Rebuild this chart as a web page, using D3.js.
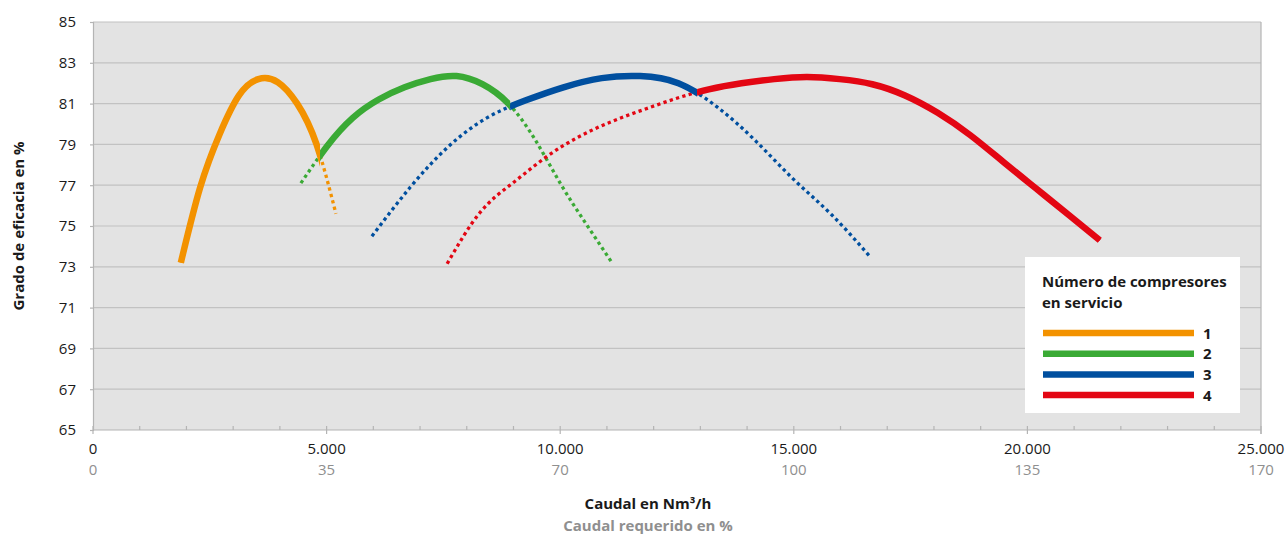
<!DOCTYPE html>
<html>
<head>
<meta charset="utf-8">
<script src="https://cdn.jsdelivr.net/npm/d3@7"></script>
<style>
  html, body { margin: 0; padding: 0; background: #fff; }
  svg { display: block; font-family: "Open Sans", "Noto Sans", sans-serif; }
</style>
</head>
<body>
<svg id="chart" width="1288" height="534"></svg>
<script>
// Efficiency curves per number of compressors in service (flow in Nm³/h, efficiency in %)
const flow1 = [1880, 2295, 2710, 3125, 3540, 3955, 4370, 4785, 5200];
const eff1  = [73.2, 76.9, 79.5, 81.4, 82.2, 82.05, 81.0, 79.0, 75.6];

const flow2 = [4450, 5005, 5560, 6115, 6670, 7225, 7780, 8335, 8890, 9445, 10000, 10555, 11110];
const eff2  = [77.1, 78.9, 80.3, 81.2, 81.8, 82.2, 82.35, 81.95, 81.0, 79.3, 77.1, 75.1, 73.2];

const flow3 = [5970, 6790, 7610, 8430, 9250, 10070, 10890, 11710, 12530, 13350, 14170, 14990, 15810, 16630];
const eff3  = [74.5, 76.9, 78.9, 80.3, 81.15, 81.8, 82.25, 82.35, 82.0, 80.85, 79.2, 77.3, 75.55, 73.5];

const flow4 = [7580, 8280, 8980, 9680, 10380, 11080, 11780, 12480, 13180, 13880, 14580, 15280, 15980, 16680, 17380, 18080, 18780, 19480, 20180, 20880, 21550];
const eff4  = [73.15, 75.65, 77.1, 78.35, 79.35, 80.1, 80.7, 81.25, 81.7, 82.0, 82.2, 82.3, 82.2, 81.95, 81.4, 80.55, 79.45, 78.15, 76.85, 75.55, 74.3];

// Flow range of each curve drawn as the solid (operating) part
const solidFrom = [1880, 4860, 8930, 12930];
const solidTo   = [4860, 8930, 12930, 21550];

const seriesNames = ["1", "2", "3", "4"];
const seriesColors = ["#f39200", "#3aaa35", "#004f9f", "#e30613"];

// Axis ticks
const flowTicks = [0, 5000, 10000, 15000, 20000, 25000];
const flowTickLabels = ["0", "5.000", "10.000", "15.000", "20.000", "25.000"];
const percentTickLabels = ["0", "35", "70", "100", "135", "170"];
const effTicks = [65, 67, 69, 71, 73, 75, 77, 79, 81, 83, 85];

const svg = d3.select("#chart");
const plot = { left: 93, right: 1261, top: 22, bottom: 430 };

const x = d3.scaleLinear().domain([0, 25000]).range([plot.left, plot.right]);
const y = d3.scaleLinear().domain([65, 85]).range([plot.bottom, plot.top]);

// Plot background
svg.append("rect")
  .attr("x", plot.left).attr("y", plot.top)
  .attr("width", plot.right - plot.left).attr("height", plot.bottom - plot.top)
  .attr("fill", "#e3e3e3");

// Horizontal gridlines
svg.append("g")
  .selectAll("line")
  .data(effTicks.slice(1))
  .join("line")
  .attr("x1", plot.left).attr("x2", plot.right)
  .attr("y1", d => y(d)).attr("y2", d => y(d))
  .attr("stroke", "#c2c2c2").attr("stroke-width", 1.2);

// Right border
svg.append("line")
  .attr("x1", plot.right).attr("x2", plot.right)
  .attr("y1", plot.top).attr("y2", plot.bottom + 4)
  .attr("stroke", "#b4b4b4").attr("stroke-width", 1.2);

// Y axis
const yAxis = d3.axisLeft(y).tickValues(effTicks).tickSize(3).tickPadding(14).tickFormat(d3.format("d"));
const gy = svg.append("g").attr("transform", `translate(${plot.left},0)`).call(yAxis);
gy.select(".domain").attr("stroke", "#b4b4b4").attr("stroke-width", 1.2);
gy.selectAll(".tick line").attr("stroke", "#b4b4b4").attr("stroke-width", 1.2);
gy.selectAll(".tick text").attr("font-size", 15).attr("fill", "#1a1a1a")
  .attr("font-family", "'Open Sans', sans-serif");

// X axis: minor ticks inside, major ticks across the axis line
const gx = svg.append("g");
gx.append("line")
  .attr("x1", plot.left).attr("x2", plot.right)
  .attr("y1", plot.bottom).attr("y2", plot.bottom)
  .attr("stroke", "#b4b4b4").attr("stroke-width", 1.2);
gx.selectAll("line.minor")
  .data(d3.range(1000, 25000, 1000).filter(v => v % 5000 !== 0))
  .join("line").attr("class", "minor")
  .attr("x1", d => x(d)).attr("x2", d => x(d))
  .attr("y1", plot.bottom - 4).attr("y2", plot.bottom)
  .attr("stroke", "#b4b4b4").attr("stroke-width", 1.2);
gx.selectAll("line.major")
  .data(flowTicks)
  .join("line").attr("class", "major")
  .attr("x1", d => x(d)).attr("x2", d => x(d))
  .attr("y1", plot.bottom - 4).attr("y2", plot.bottom + 4)
  .attr("stroke", "#b4b4b4").attr("stroke-width", 1.2);
gx.selectAll("text.flow")
  .data(flowTicks)
  .join("text").attr("class", "flow")
  .attr("x", d => x(d)).attr("y", 454)
  .attr("text-anchor", "middle").attr("font-size", 15).attr("fill", "#1a1a1a")
  .text((d, i) => flowTickLabels[i]);
gx.selectAll("text.pct")
  .data(flowTicks)
  .join("text").attr("class", "pct")
  .attr("x", d => x(d)).attr("y", 475)
  .attr("text-anchor", "middle").attr("font-size", 15).attr("fill", "#8f8f8f")
  .text((d, i) => percentTickLabels[i]);

// Axis titles
svg.append("text")
  .attr("x", 648).attr("y", 509)
  .attr("text-anchor", "middle").attr("font-size", 15).attr("font-weight", "bold").attr("fill", "#1a1a1a")
  .text("Caudal en Nm³/h");
svg.append("text")
  .attr("x", 648).attr("y", 531)
  .attr("text-anchor", "middle").attr("font-size", 15).attr("font-weight", "bold").attr("fill", "#8f8f8f")
  .text("Caudal requerido en %");
svg.append("text")
  .attr("transform", `translate(24,${(plot.top + plot.bottom) / 2}) rotate(-90)`)
  .attr("text-anchor", "middle").attr("font-size", 15).attr("font-weight", "bold").attr("fill", "#1a1a1a")
  .text("Grado de eficacia en %");

// Curves: full curve dotted, operating range solid (clipped by flow range)
const flows = [flow1, flow2, flow3, flow4];
const effs = [eff1, eff2, eff3, eff4];
const line = d3.line().x(d => x(d[0])).y(d => y(d[1])).curve(d3.curveNatural);
const curves = flows.map((f, i) => f.map((v, j) => [v, effs[i][j]]));

const defs = svg.append("defs");
curves.forEach((pts, i) => {
  defs.append("clipPath").attr("id", `solid-${i}`)
    .append("rect")
    .attr("x", x(solidFrom[i]) - (i === 0 ? 5 : 0)).attr("y", 0)
    .attr("width", x(solidTo[i]) - x(solidFrom[i]) + (i === 0 || i === 3 ? 5 : 0))
    .attr("height", 534);
});

const gLines = svg.append("g");
curves.forEach((pts, i) => {
  gLines.append("path")
    .attr("d", line(pts))
    .attr("fill", "none")
    .attr("stroke", seriesColors[i])
    .attr("stroke-width", 3.3)
    .attr("stroke-dasharray", "3.3,3.3");
});
curves.forEach((pts, i) => {
  gLines.append("path")
    .attr("d", line(pts))
    .attr("clip-path", `url(#solid-${i})`)
    .attr("fill", "none")
    .attr("stroke", seriesColors[i])
    .attr("stroke-width", 6.5);
});

// Legend
const lg = svg.append("g");
lg.append("rect").attr("x", 1025).attr("y", 257).attr("width", 215).attr("height", 156).attr("fill", "#fff");
lg.append("text").attr("x", 1042).attr("y", 287).attr("font-size", 15).attr("font-weight", "bold").attr("fill", "#1a1a1a")
  .text("Número de compresores");
lg.append("text").attr("x", 1042).attr("y", 308).attr("font-size", 15).attr("font-weight", "bold").attr("fill", "#1a1a1a")
  .text("en servicio");
seriesNames.forEach((name, i) => {
  const yy = 333 + i * 20.7;
  lg.append("line").attr("x1", 1043).attr("x2", 1194).attr("y1", yy).attr("y2", yy)
    .attr("stroke", seriesColors[i]).attr("stroke-width", 6.5);
  lg.append("text").attr("x", 1203).attr("y", yy + 5.5).attr("font-size", 15).attr("font-weight", "bold")
    .attr("fill", "#1a1a1a").text(name);
});
</script>
</body>
</html>
